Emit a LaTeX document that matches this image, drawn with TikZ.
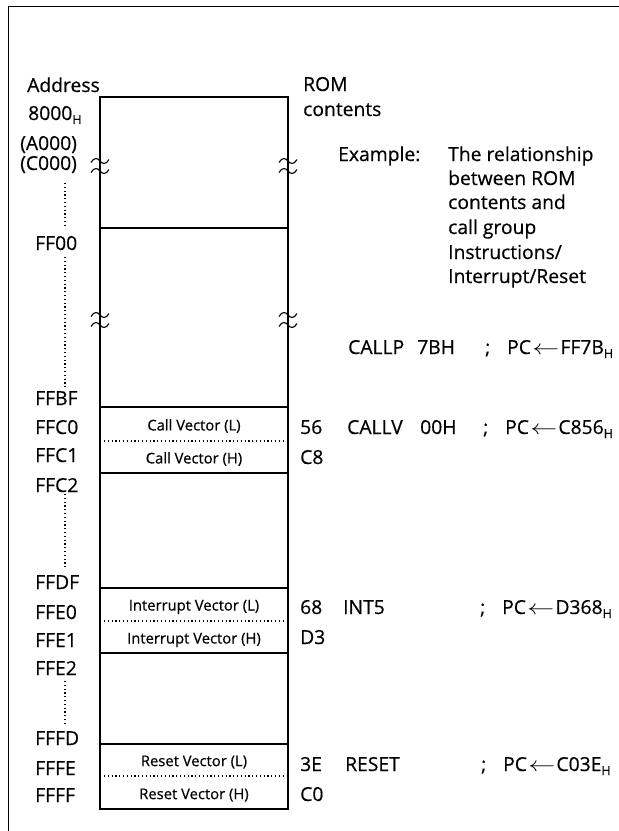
\documentclass[tikz,border=0pt]{standalone}
\usepackage{fontspec}
\setmainfont{Open Sans}[FakeBold=0.5]
\newcommand\subH{\raisebox{-4pt}{\fontsize{12.5}{13}\selectfont H}}
\newcommand\larr{\hspace{1.5pt}\scalebox{1.3}[1]{$\leftarrow$}\hspace{1pt}}
\tikzset{
  big/.style={font=\fontsize{19.3}{22}\selectfont, inner sep=0pt, anchor=base west},
  cell/.style={font=\fontsize{14.8}{17}\selectfont, inner sep=0pt},
  frameline/.style={line width=1.6pt},
  boxline/.style={line width=1.2pt},
  dotline/.style={line width=1.2pt, dash pattern=on 1.2pt off 2.6pt},
  brk/.style={line width=1.1pt}
}
\begin{document}
\begin{tikzpicture}[x=1pt,y=-1pt]
\useasboundingbox (0,0) rectangle (619,831);
% frame
\draw[frameline] (8.5,831) -- (8.5,6.5) -- (619,6.5);
% memory box
\draw[boxline] (100,97) rectangle (288,809);
\foreach \y in {228,407,473,588,653,744}{
  \draw[boxline] (100,\y) -- (288,\y);
}
\foreach \y in {441,621,776}{
  \draw[dotline] (104,\y) -- (286,\y);
}
% break marks
\foreach \x/\y in {100/166, 288/166, 100/320, 288/320}{
  \foreach \d in {-5,5}{
    \draw[brk] (\x-9,\y+\d+1.5) .. controls (\x-6,\y+\d-4) and (\x-2,\y+\d-3) .. (\x,\y+\d)
               .. controls (\x+2,\y+\d+3) and (\x+6,\y+\d+4) .. (\x+9,\y+\d-1.5);
  }
}
% address column
\node[big] (addr) at (27,92) {Address};
\node[big] (a8000) at (28,120) {8000\subH};
\node[big] (aA000) at (20,150) {(A000)};
\node[big] (aC000) at (20,170) {(C000)};
\node[big] (aFF00) at (35,250) {FF00};
\node[big] (aFFBF) at (35,405) {FFBF};
\node[big] (aFFC0) at (35,434) {FFC0};
\node[big] (aFFC1) at (35,462) {FFC1};
\node[big] (aFFC2) at (35,492) {FFC2};
\node[big] (aFFDF) at (35,589) {FFDF};
\node[big] (aFFE0) at (35,619) {FFE0};
\node[big] (aFFE1) at (35,647) {FFE1};
\node[big] (aFFE2) at (35,675) {FFE2};
\node[big] (aFFFD) at (35,745) {FFFD};
\node[big] (aFFFE) at (35,775) {FFFE};
\node[big] (aFFFF) at (35,802) {FFFF};
\foreach \a/\b in {183/227, 257/387, 494/567, 681/723}{
  \draw[dotline] (65,\a) -- (65,\b);
}
% cell labels
\node[cell] (cvl) at (194,426) {Call Vector (L)};
\node[cell] (cvh) at (194,459) {Call Vector (H)};
\node[cell] (ivl) at (194,607) {Interrupt Vector (L)};
\node[cell] (ivh) at (194,640) {Interrupt Vector (H)};
\node[cell] (rvl) at (194,762) {Reset Vector (L)};
\node[cell] (rvh) at (194,795) {Reset Vector (H)};
% ROM contents
\node[big] (rom) at (303,91) {ROM};
\node[big] (cont) at (303,116) {contents};
\node[big] (ex) at (338,161) {Example:};
\node[big] (e1) at (448,161) {The relationship};
\node[big] (e2) at (448,185) {between ROM};
\node[big] (e3) at (448,209) {contents and};
\node[big] (e4) at (448,234) {call group};
\node[big] (e5) at (448,259) {Instructions/};
\node[big] (e6) at (448,283) {Interrupt/Reset};
% instructions
\node[big] (callp) at (348,354) {CALLP};
\node[big] (callpa) at (417,354) {7BH};
\node[big] (s1) at (485,354) {;};
\node[big] (pc1) at (507,354) {PC\larr FF7B\subH};
\node[big] (v56) at (300,434) {56};
\node[big] (callv) at (347,434) {CALLV};
\node[big] (callva) at (420,434) {00H};
\node[big] (s2) at (483,434) {;};
\node[big] (pc2) at (505,434) {PC\larr C856\subH};
\node[big] (vC8) at (300,464) {C8};
\node[big] (v68) at (300,614) {68};
\node[big] (int5) at (343,614) {INT5};
\node[big] (s3) at (480,614) {;};
\node[big] (pc3) at (502,614) {PC\larr D368\subH};
\node[big] (vD3) at (300,644) {D3};
\node[big] (v3E) at (300,771) {3E};
\node[big] (reset) at (345,771) {RESET};
\node[big] (s4) at (481,771) {;};
\node[big] (pc4) at (503,771) {PC\larr C03E\subH};
\node[big] (vC0) at (300,801) {C0};
\end{tikzpicture}
\end{document}
